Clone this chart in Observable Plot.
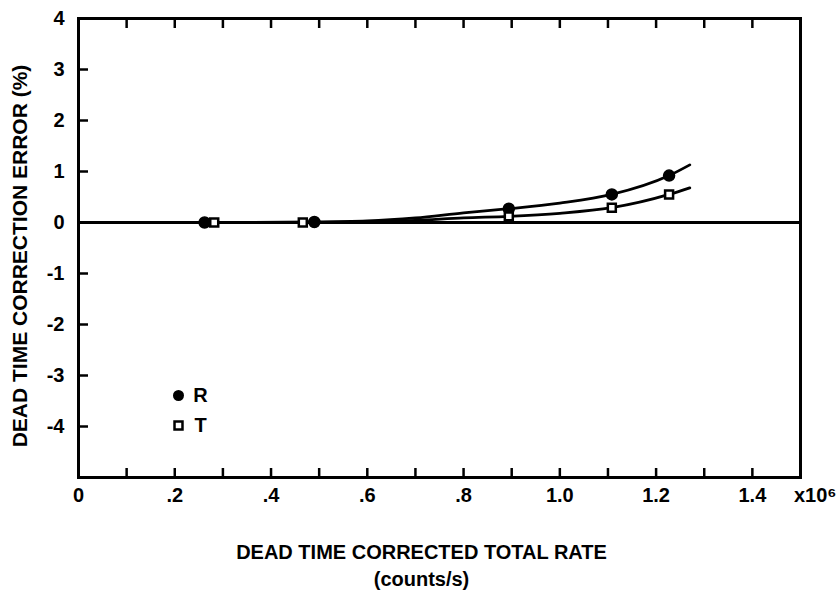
<!DOCTYPE html>
<html>
<head>
<meta charset="utf-8">
<script src="https://cdn.jsdelivr.net/npm/d3@7"></script>
<script src="https://cdn.jsdelivr.net/npm/@observablehq/plot@0.6"></script>
<style>
  html, body { margin: 0; padding: 0; background: #fff; }
  #chart { width: 840px; height: 590px; }
</style>
</head>
<body>
<div id="chart"></div>
<script>
// ---- data ----
const xLabelTicks = [0, 0.2, 0.4, 0.6, 0.8, 1.0, 1.2, 1.4];
const xMinorTicks = [0.1, 0.2, 0.3, 0.4, 0.5, 0.6, 0.7, 0.8, 0.9, 1.0, 1.1, 1.2, 1.3, 1.4];
const yLabelTicks = [-4, -3, -2, -1, 0, 1, 2, 3, 4];
const yMinorTicks = [-4, -3, -2, -1, 0, 1, 2, 3];

// measured points
const rPointX = [0.262, 0.49, 0.894, 1.108, 1.227];
const rPointY = [0.0, 0.01, 0.27, 0.55, 0.92];
const tPointX = [0.282, 0.466, 0.894, 1.108, 1.227];
const tPointY = [0.0, 0.0, 0.12, 0.29, 0.55];

// fitted curves
const rCurveX = [0, 0.262, 0.49, 0.6, 0.7, 0.8, 0.894, 1.0, 1.108, 1.227, 1.27];
const rCurveY = [0, 0.0, 0.01, 0.03, 0.09, 0.19, 0.27, 0.38, 0.55, 0.92, 1.13];
const tCurveX = [0, 0.282, 0.466, 0.6, 0.7, 0.8, 0.894, 1.0, 1.108, 1.227, 1.27];
const tCurveY = [0, 0.0, 0.0, 0.01, 0.04, 0.09, 0.12, 0.18, 0.29, 0.55, 0.68];

const legendItems = ["R", "T"];
const yTitle = "DEAD TIME CORRECTION ERROR (%)";
const xTitle = "DEAD TIME CORRECTED TOTAL RATE\n(counts/s)";
const xUnit = "x10⁶";

// ---- build tables ----
const rPoints = rPointX.map((x, i) => ({x, y: rPointY[i]}));
const tPoints = tPointX.map((x, i) => ({x, y: tPointY[i]}));
const rCurve = rCurveX.map((x, i) => ({x, y: rCurveY[i]}));
const tCurve = tCurveX.map((x, i) => ({x, y: tCurveY[i]}));

const fmtX = d => d === 0 ? "0" : (d < 1 ? d.toFixed(1).slice(1) : d.toFixed(1));
const fmtY = d => String(d);
const font = "'Liberation Sans', Arial, sans-serif";

const chart = Plot.plot({
  width: 840,
  height: 590,
  marginLeft: 78,
  marginRight: 40,
  marginTop: 18,
  marginBottom: 113,
  style: {fontFamily: font, fontWeight: "bold", fontSize: "20px", color: "#000", background: "#fff"},
  x: {domain: [0, 1.5], axis: null},
  y: {domain: [-5, 4], axis: null},
  marks: [
    // zero line
    Plot.ruleY([0], {stroke: "#000", strokeWidth: 3}),
    // curves
    Plot.line(rCurve, {x: "x", y: "y", curve: "monotone-x", stroke: "#000", strokeWidth: 2.8}),
    Plot.line(tCurve, {x: "x", y: "y", curve: "monotone-x", stroke: "#000", strokeWidth: 2.8}),
    // points
    Plot.dot(rPoints, {x: "x", y: "y", r: 5.5, fill: "#000", stroke: "#000"}),
    Plot.dot(tPoints, {x: "x", y: "y", symbol: "square", r: 4.5, fill: "#fff", stroke: "#000", strokeWidth: 2.5}),
    // frame
    Plot.frame({stroke: "#000", strokeWidth: 3}),
    // bottom ticks (inward) and labels
    Plot.axisX(xMinorTicks, {anchor: "bottom", tickSize: -9, tickFormat: () => "", strokeWidth: 2.5, label: null}),
    Plot.axisX(xLabelTicks, {anchor: "bottom", tickSize: 0, tickPadding: 10, tickFormat: fmtX, fontSize: 20, fontWeight: "bold", label: null}),
    // top ticks (inward)
    Plot.axisX(xMinorTicks, {anchor: "top", tickSize: -9, tickFormat: () => "", strokeWidth: 2.5, label: null}),
    // left ticks (inward) and labels
    Plot.axisY(yMinorTicks, {anchor: "left", tickSize: -10, tickFormat: () => "", strokeWidth: 2.5, label: null}),
    Plot.axisY(yLabelTicks, {anchor: "left", tickSize: 0, tickPadding: 14, tickFormat: fmtY, fontSize: 20, fontWeight: "bold", label: null}),
    // axis titles
    Plot.text([yTitle], {text: d => d, frameAnchor: "left", textAnchor: "middle", lineAnchor: "middle", rotate: -90, dx: -58, dy: 8, fontSize: 21, fontWeight: "bold", fill: "#000"}),
    Plot.text([xTitle], {text: d => d, frameAnchor: "bottom", textAnchor: "middle", lineAnchor: "bottom", dx: -18, dy: 108, fontSize: 20, fontWeight: "bold", fill: "#000", lineHeight: 1.35}),
    Plot.text([xUnit], {text: d => d, frameAnchor: "bottom-right", textAnchor: "end", lineAnchor: "top", dx: 36, dy: 10, fontSize: 20, fontWeight: "bold", fill: "#000"}),
    // legend
    Plot.dot([legendItems[0]], {frameAnchor: "bottom-left", dx: 100, dy: -82, r: 5.5, fill: "#000"}),
    Plot.dot([legendItems[1]], {frameAnchor: "bottom-left", dx: 100, dy: -52, symbol: "square", r: 4.5, fill: "#fff", stroke: "#000", strokeWidth: 2.5}),
    Plot.text([legendItems[0]], {text: d => d, frameAnchor: "bottom-left", textAnchor: "middle", lineAnchor: "middle", dx: 122, dy: -82, fontSize: 20, fontWeight: "bold", fill: "#000"}),
    Plot.text([legendItems[1]], {text: d => d, frameAnchor: "bottom-left", textAnchor: "middle", lineAnchor: "middle", dx: 122, dy: -52, fontSize: 20, fontWeight: "bold", fill: "#000"})
  ]
});
document.getElementById("chart").appendChild(chart);
</script>
</body>
</html>
